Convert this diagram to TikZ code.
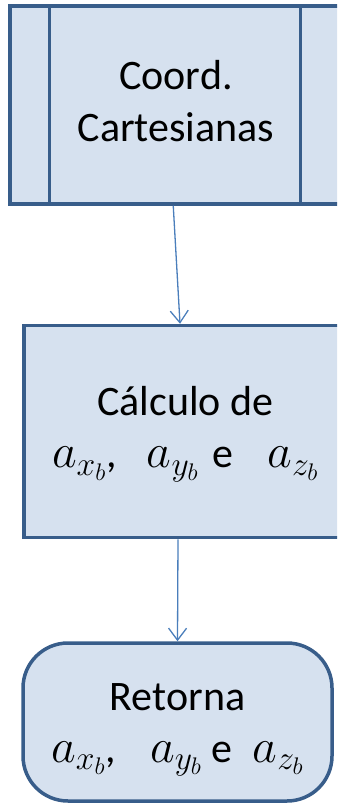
\documentclass[tikz,border=0pt]{standalone}
\usepackage{fix-cm}
\usepackage{fontspec}
\setmainfont{Carlito}
\usetikzlibrary{arrows.meta,positioning,calc}
\definecolor{boxfill}{HTML}{D6E1EF}
\definecolor{boxline}{HTML}{385D8A}
\definecolor{arrowline}{HTML}{4A7EBB}
\newcommand{\Acomp}[1]{{\fontsize{48}{48}\selectfont$a_{#1_b}$}}

\begin{document}
\begin{tikzpicture}[node distance=118pt, >={Straight Barb[length=12pt,width=18pt]},
    flowbox/.style={draw=boxline, fill=boxfill, line width=3.5pt,
      font=\fontsize{42}{52}\selectfont, inner sep=0pt},
    flowarrow/.style={->, draw=arrowline, line width=1.3pt}]
\useasboundingbox (0,0) rectangle (337pt,-805pt);
\clip (0,0) rectangle (337pt,-805pt);
% boxes run past the right edge, text is pulled back to the middle
\node[flowbox, minimum width=400pt, minimum height=198pt] (coord) at (210pt,-105pt)
  {\begin{tabular}{@{}c@{}}Coord.\\Cartesianas\end{tabular}\rule{68pt}{0pt}};
\draw[boxline, line width=3.5pt] ($(coord.north west)+(41pt,-1.75pt)$) -- ($(coord.south west)+(41pt,1.75pt)$);
\draw[boxline, line width=3.5pt] ($(coord.north west)+(292pt,-1.75pt)$) -- ($(coord.south west)+(292pt,1.75pt)$);
\node[flowbox, minimum width=400pt, minimum height=212pt, below=118pt of coord, xshift=13.75pt] (calc)
  {\begin{tabular}{@{}c@{}}Cálculo de\\\Acomp{x},\hspace{30pt}\Acomp{y}\hspace{14pt}e\hspace{34pt}\Acomp{z}\end{tabular}\rule{77pt}{0pt}};
\node[flowbox, align=center, rounded corners=45pt, minimum width=309pt, minimum height=158pt] (ret)
  at (177.5pt,-722pt)
  {\rule{0pt}{42pt}Retorna\\\Acomp{x},\hspace{34pt}\Acomp{y}\hspace{10pt}e\hspace{20pt}\Acomp{z}};
\draw[flowarrow] ([xshift=165pt]coord.south west) -- ([xshift=158pt]calc.north west);
\draw[flowarrow] ([xshift=156pt]calc.south west) -- (ret.north);
\end{tikzpicture}
\end{document}
